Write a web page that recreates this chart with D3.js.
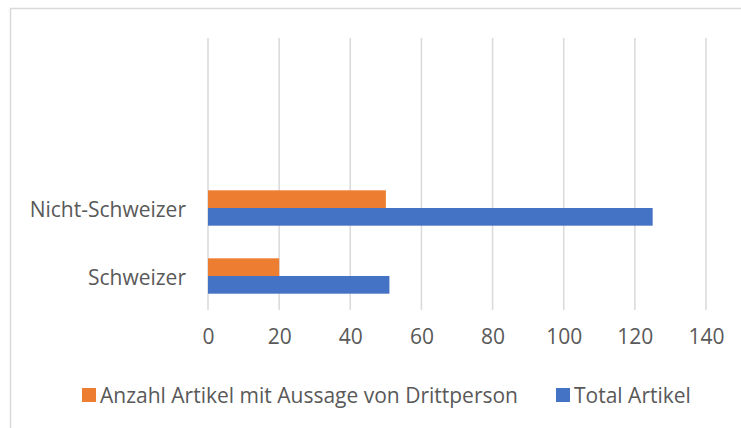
<!DOCTYPE html>
<html>
<head>
<meta charset="utf-8">
<script src="https://cdn.jsdelivr.net/npm/d3@7"></script>
<style>
  body { margin: 0; background: #fff; }
  text { font-family: "Open Sans", Lato, sans-serif; fill: #595959; }
</style>
</head>
<body>
<script>
var margin = {top: 38, right: 35, bottom: 118, left: 208},
    width = 741 - margin.left - margin.right,
    height = 428 - margin.top - margin.bottom;

// data
var data = [
  {cat: "Schweizer", drittperson: 20, total: 51},
  {cat: "Nicht-Schweizer", drittperson: 50, total: 125}
];

var series = [
  {key: "drittperson", label: "Anzahl Artikel mit Aussage von Drittperson", color: "#ed7d31"},
  {key: "total", label: "Total Artikel", color: "#4472c4"}
];

var fontSize = 21;

// setup x
var xScale = d3.scaleLinear().domain([0, 140]).range([0, width]);

// setup y - excel left two empty category slots above the data
var yScale = d3.scaleBand()
    .domain(["Schweizer", "Nicht-Schweizer", "_a", "_b"])
    .range([height, 0]);

var inner = d3.scaleBand()
    .domain(series.map(function(s) { return s.key; }))
    .range([yScale.bandwidth() * 0.24, yScale.bandwidth() * 0.76]);

var svg = d3.select("body").append("svg")
    .attr("width", 741)
    .attr("height", 428);

// chart border
svg.append("rect")
    .attr("x", 10.5)
    .attr("y", 8.5)
    .attr("width", 760)
    .attr("height", 440)
    .attr("fill", "none")
    .attr("stroke", "#d9d9d9")
    .attr("stroke-width", 1.5);

var g = svg.append("g")
    .attr("transform", "translate(" + margin.left + "," + margin.top + ")");

// gridlines
g.selectAll(".grid")
    .data(xScale.ticks(7))
  .enter().append("line")
    .attr("class", "grid")
    .attr("x1", function(d) { return xScale(d); })
    .attr("x2", function(d) { return xScale(d); })
    .attr("y1", 0)
    .attr("y2", height)
    .attr("stroke", "#d9d9d9")
    .attr("stroke-width", 1.5);

// x-axis
var xAxis = g.append("g")
    .attr("transform", "translate(0," + height + ")")
    .call(d3.axisBottom(xScale).ticks(7).tickSize(0).tickPadding(19));
xAxis.select(".domain").remove();
xAxis.selectAll("text")
    .attr("font-size", fontSize)
    .attr("fill", "#595959");

// y-axis
var yAxis = g.append("g")
    .call(d3.axisLeft(yScale).tickSize(0).tickPadding(22)
      .tickFormat(function(d) { return d.charAt(0) == "_" ? "" : d; }));
yAxis.select(".domain").remove();
yAxis.selectAll("text")
    .attr("font-size", fontSize)
    .attr("dy", "0.45em")
    .attr("fill", "#595959");

// bars
var groups = g.selectAll(".cat")
    .data(data)
  .enter().append("g")
    .attr("class", "cat")
    .attr("transform", function(d) { return "translate(0," + yScale(d.cat) + ")"; });

groups.selectAll("rect")
    .data(function(d) { return series.map(function(s) { return {key: s.key, value: d[s.key], color: s.color}; }); })
  .enter().append("rect")
    .attr("x", 0)
    .attr("y", function(d) { return inner(d.key); })
    .attr("width", function(d) { return xScale(d.value); })
    .attr("height", inner.bandwidth())
    .attr("fill", function(d) { return d.color; });

// legend
var legendX = [82, 556];
var legend = svg.selectAll(".legend")
    .data(series)
  .enter().append("g")
    .attr("class", "legend")
    .attr("transform", function(d, i) { return "translate(" + legendX[i] + ",388)"; });

legend.append("rect")
    .attr("width", 14)
    .attr("height", 14)
    .attr("fill", function(d) { return d.color; });

legend.append("text")
    .attr("x", 18)
    .attr("y", 7)
    .attr("dy", "0.36em")
    .attr("font-size", fontSize)
    .text(function(d) { return d.label; });
</script>
</body>
</html>
